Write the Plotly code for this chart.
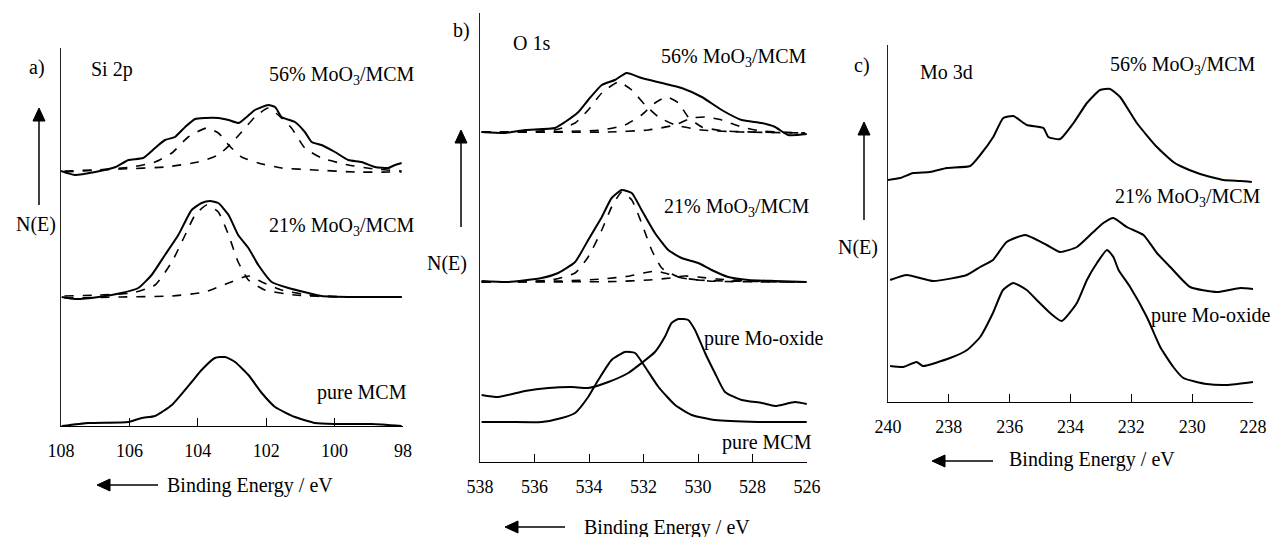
import plotly.graph_objects as go

W, H = 1273, 537

# ---------------- Panel a) Si 2p ----------------
A56_E = [108.0,107.6,107.0,106.4,106.03,105.6,105.25,104.96,104.67,104.37,104.08,103.79,103.4,103.1,102.8,102.57,102.33,101.94,101.74,101.55,101.16,100.87,100.67,100.38,99.99,99.6,99.21,98.82,98.43,98.23,98.04]
A56_I = [255,251,254,259,266,268,278,286,289,299,307,308,308,306,303,309,316,321,319,309,304,294,284,281,274,266,264,259,258,261,263]
A56_C1_E = [107.9,106.9,105.93,105.25,104.76,104.28,103.74,103.4,103.1,102.72,102.23,101.55,100.57,99.4,98.04]
A56_C1_I = [254,256,259,264,273,289,298,293,281,269,263,258,256,254,254]
A56_C2_E = [107.9,106.23,104.96,103.99,103.4,103.01,102.72,102.33,101.94,101.55,101.26,100.87,100.38,99.6,98.82,98.04]
A56_C2_I = [255,257,259,264,271,283,294,309,318,308,298,278,268,261,257,255]

A21_E = [107.98,107.6,106.9,106.23,105.74,105.35,104.96,104.57,104.18,103.89,103.64,103.4,103.1,102.82,102.52,102.23,101.84,101.35,100.77,100.38,99.4,98.04]
A21_I = [129,127,129,133,138,151,171,191,216,223,225,223,211,191,178,161,144,138,133,130,129,129]
A21_C1_E = [107.9,106.9,105.93,105.25,104.76,104.37,104.08,103.74,103.4,103.1,102.82,102.52,102.04,101.16,99.89,98.04]
A21_C1_I = [130,131,133,141,164,191,211,221,214,191,164,146,136,131,129,129]
A21_C2_E = [107.9,106.23,104.76,103.79,103.1,102.52,102.13,101.55,100.77,99.4,98.04]
A21_C2_I = [128,129,130,134,143,150,144,136,131,129,129]

AMCM_E = [107.98,107.2,106.03,105.64,105.25,104.76,104.18,103.89,103.5,103.2,102.91,102.52,102.13,101.74,101.16,100.57,99.99,98.92,98.04]
AMCM_I = [0,3,4,8,10,21,44,56,68,69,64,51,33,19,9,3,2,2,0]

# ---------------- Panel b) O 1s ----------------
B56_E = [537.94,537.08,536.35,535.25,534.88,534.39,534.03,533.53,533.05,532.62,532.07,531.33,530.6,529.86,529.13,528.4,527.66,527.17,526.69,526.01]
B56_I = [330,329,332,334,340,350,362,377,382,389,384,379,374,365,352,342,339,335,327,328]
B56_C1_E = [537.94,536.96,535.25,534.51,534.03,533.53,532.92,532.43,531.94,531.45,530.84,529.86,528.4,526.07]
B56_C1_I = [330,330,332,339,352,369,380,372,357,345,337,332,330,329]
B56_C2_E = [537.94,535.74,533.53,532.68,532.07,531.58,531.15,530.72,530.36,529.86,529.01,526.07]
B56_C2_I = [330,330,332,337,347,359,365,359,345,335,331,329]
B56_C3_E = [537.94,533.29,531.82,530.84,530.23,529.74,529.13,528.4,527.66,526.07]
B56_C3_I = [330,330,332,337,344,345,342,335,331,329]

B21_E = [537.94,536.96,535.74,535.13,534.51,534.03,533.53,533.17,532.8,532.43,532.07,531.58,531.09,530.6,529.99,529.5,528.89,528.15,527.17,526.01]
B21_I = [181,180,184,189,200,222,245,264,272,269,252,229,212,204,199,192,185,182,181,180]
B21_C1_E = [537.94,536.96,535.37,534.51,534.03,533.53,533.17,532.8,532.43,532.07,531.7,531.33,530.72,529.62,526.07]
B21_C1_I = [180,180,182,189,205,232,255,270,262,239,212,194,185,181,180]
B21_C2_E = [537.94,535.0,533.5,532.5,532.0,531.55,531.1,530.6,530.0,529.0,526.07]
B21_C2_I = [180,181,183,186,189,191,188,184,182,181,180]
B21_C3_E = [537.94,533.0,531.8,531.0,530.5,530.0,529.3,528.5,527.5,526.07]
B21_C3_I = [180,180.5,182,184,186,185,183,181.5,180.5,180]

BMO_E = [537.94,537.33,536.35,535.49,534.63,534.03,533.29,532.56,532.07,531.58,531.22,530.97,530.72,530.36,530.11,529.74,529.38,529.01,528.4,527.66,527.17,526.44,526.01]
BMO_I = [67,65,71,74,75,74,80,89,99,110,125,139,143,142,132,109,89,70,62,59,56,60,58]
BMCM_E = [537.94,536.96,535.74,535.0,534.51,534.03,533.66,533.17,532.68,532.31,531.94,531.45,530.84,530.23,529.38,527.79,526.01]
BMCM_I = [40,40,40,44,49,65,82,102,110,109,95,75,57,47,42,40,40]

# ---------------- Panel c) Mo 3d ----------------
C56_E = [240.0,239.6,239.17,238.62,238.07,237.3,236.97,236.54,236.21,235.88,235.44,234.89,234.73,234.34,233.9,233.46,233.03,232.7,232.37,231.82,231.16,230.62,230.39,229.74,228.97,228.42,228.04]
C56_I = [222,224,229,230,234,236,247,265,284,286,277,274,265,263,279,299,312,313,305,279,255,240,236,228,222,221,220]
C21_E = [239.93,239.38,238.51,237.41,236.97,236.55,236.1,235.49,234.78,234.34,233.79,233.25,232.92,232.59,232.15,231.6,231.16,230.72,230.07,229.19,228.42,228.0]
C21_I = [122,127,121,127,135,142,160,167,157,150,155,170,179,184,175,167,149,135,115,110,114,113]
CMO_E = [239.93,239.5,239.06,238.85,237.96,237.4,236.97,236.55,236.22,235.88,235.44,235.11,234.67,234.29,233.79,233.46,233.13,232.8,232.59,232.42,232.04,231.49,231.05,230.62,230.29,229.52,228.86,228.0]
CMO_I = [36,35,40,36,44,52,65,89,112,119,112,102,89,81,99,122,139,152,145,132,115,85,55,35,24,18,17,20]

TICKS_A = [108, 106, 104, 102, 100, 98]
TICKS_B = [538, 536, 534, 532, 530, 528, 526]
TICKS_C = [240, 238, 236, 234, 232, 230, 228]

FONT = "Liberation Serif"


def px(x):
    return x / W


def py(y):
    return 1 - y / H


fig = go.Figure()

solid = dict(color="black", width=2.0, shape="spline", smoothing=0.5)
dashed = dict(color="black", width=1.6, dash="dash", shape="spline", smoothing=0.5)


def add(E, I, ax, style):
    fig.add_trace(go.Scatter(x=E, y=I, mode="lines", line=style,
                             xaxis="x" + ax, yaxis="y" + ax,
                             showlegend=False, hoverinfo="skip"))


# panel a
for E, I in [(A56_C1_E, A56_C1_I), (A56_C2_E, A56_C2_I), (A21_C1_E, A21_C1_I), (A21_C2_E, A21_C2_I)]:
    add(E, I, "", dashed)
for E, I in [(A56_E, A56_I), (A21_E, A21_I), (AMCM_E, AMCM_I)]:
    add(E, I, "", solid)
# panel b
for E, I in [(B56_C1_E, B56_C1_I), (B56_C2_E, B56_C2_I), (B56_C3_E, B56_C3_I),
             (B21_C1_E, B21_C1_I), (B21_C2_E, B21_C2_I), (B21_C3_E, B21_C3_I)]:
    add(E, I, "2", dashed)
for E, I in [(B56_E, B56_I), (B21_E, B21_I), (BMO_E, BMO_I), (BMCM_E, BMCM_I)]:
    add(E, I, "2", solid)
# panel c
for E, I in [(C56_E, C56_I), (C21_E, C21_I), (CMO_E, CMO_I)]:
    add(E, I, "3", solid)


def xax(x0, x1, rng, ticks):
    return dict(domain=[px(x0), px(x1)], range=rng, autorange=False,
                tickvals=ticks, ticks="inside", ticklen=8, tickwidth=1, tickcolor="black",
                showline=True, linecolor="black", linewidth=1, showgrid=False, zeroline=False,
                tickfont=dict(family=FONT, size=18, color="black"), ticklabelstandoff=8,
                automargin=False)


def yax(top, bottom, anchor):
    return dict(domain=[py(bottom), py(top)], range=[0, bottom - top], autorange=False,
                showline=True, linecolor="#222", linewidth=1, showgrid=False, zeroline=False,
                showticklabels=False, ticks="", anchor=anchor, automargin=False)


shapes = []
# vertical "up" arrows: (x, head y, tail y); horizontal "left" arrows: (head x, tail x, y)
UP_ARROWS = [(39, 108, 205), (461, 130, 227), (864, 122, 220)]
LEFT_ARROWS = [(97, 158, 485), (505, 565, 527), (932, 993, 461)]
for x, hy, ty in UP_ARROWS:
    shapes.append(dict(type="line", xref="paper", yref="paper", x0=px(x), x1=px(x),
                       y0=py(ty), y1=py(hy + 10), line=dict(color="black", width=1.5)))
    shapes.append(dict(type="path", xref="paper", yref="paper",
                       path=f"M {px(x)} {py(hy)} L {px(x - 6)} {py(hy + 13)} L {px(x + 6)} {py(hy + 13)} Z",
                       fillcolor="black", line=dict(color="black", width=1)))
for hx, tx, y in LEFT_ARROWS:
    shapes.append(dict(type="line", xref="paper", yref="paper", x0=px(hx + 10), x1=px(tx),
                       y0=py(y), y1=py(y), line=dict(color="black", width=1.5)))
    shapes.append(dict(type="path", xref="paper", yref="paper",
                       path=f"M {px(hx)} {py(y)} L {px(hx + 13)} {py(y - 6)} L {px(hx + 13)} {py(y + 6)} Z",
                       fillcolor="black", line=dict(color="black", width=1)))

layout = dict(
    width=W, height=H, autosize=False,
    margin=dict(l=0, r=0, t=0, b=0, pad=0, autoexpand=False),
    paper_bgcolor="white", plot_bgcolor="white",
    xaxis=dict(xax(61, 403, [108, 98], TICKS_A), anchor="y"),
    yaxis=yax(48, 426, "x"),
    xaxis2=dict(xax(480, 807, [538, 526], TICKS_B), anchor="y2"),
    yaxis2=yax(13, 462, "x2"),
    xaxis3=dict(xax(888, 1253, [240, 228], TICKS_C), anchor="y3"),
    yaxis3=yax(45, 402, "x3"),
    shapes=shapes,
)
fig.update_layout(**layout)

MO56 = "56% MoO<sub>3</sub>/MCM"
MO21 = "21% MoO<sub>3</sub>/MCM"
texts = [
    ("a)", 37, 67), ("Si 2p", 112, 69), (MO56, 342, 76), (MO21, 342, 226),
    ("pure MCM", 362, 392), ("N(E)", 36, 225), ("Binding Energy / eV", 250, 485),
    ("b)", 461, 31), ("O 1s", 531, 43), (MO56, 734, 57), (MO21, 737, 207),
    ("N(E)", 447, 263), ("pure Mo-oxide", 764, 338), ("pure MCM", 767, 442),
    ("Binding Energy / eV", 667, 527),
    ("c)", 862, 65), ("Mo 3d", 946, 72), (MO56, 1183, 65), (MO21, 1188, 197),
    ("pure Mo-oxide", 1211, 315), ("N(E)", 858, 248), ("Binding Energy / eV", 1092, 459),
]
for t, x, y in texts:
    fig.add_annotation(text=t, x=px(x), y=py(y), xref="paper", yref="paper",
                       xanchor="center", yanchor="middle", showarrow=False,
                       font=dict(family=FONT, size=20, color="black"))

fig.write_html("out.html", config={"responsive": False, "displayModeBar": False},
               post_script="document.body.style.margin='0';document.body.style.overflow='hidden';")
